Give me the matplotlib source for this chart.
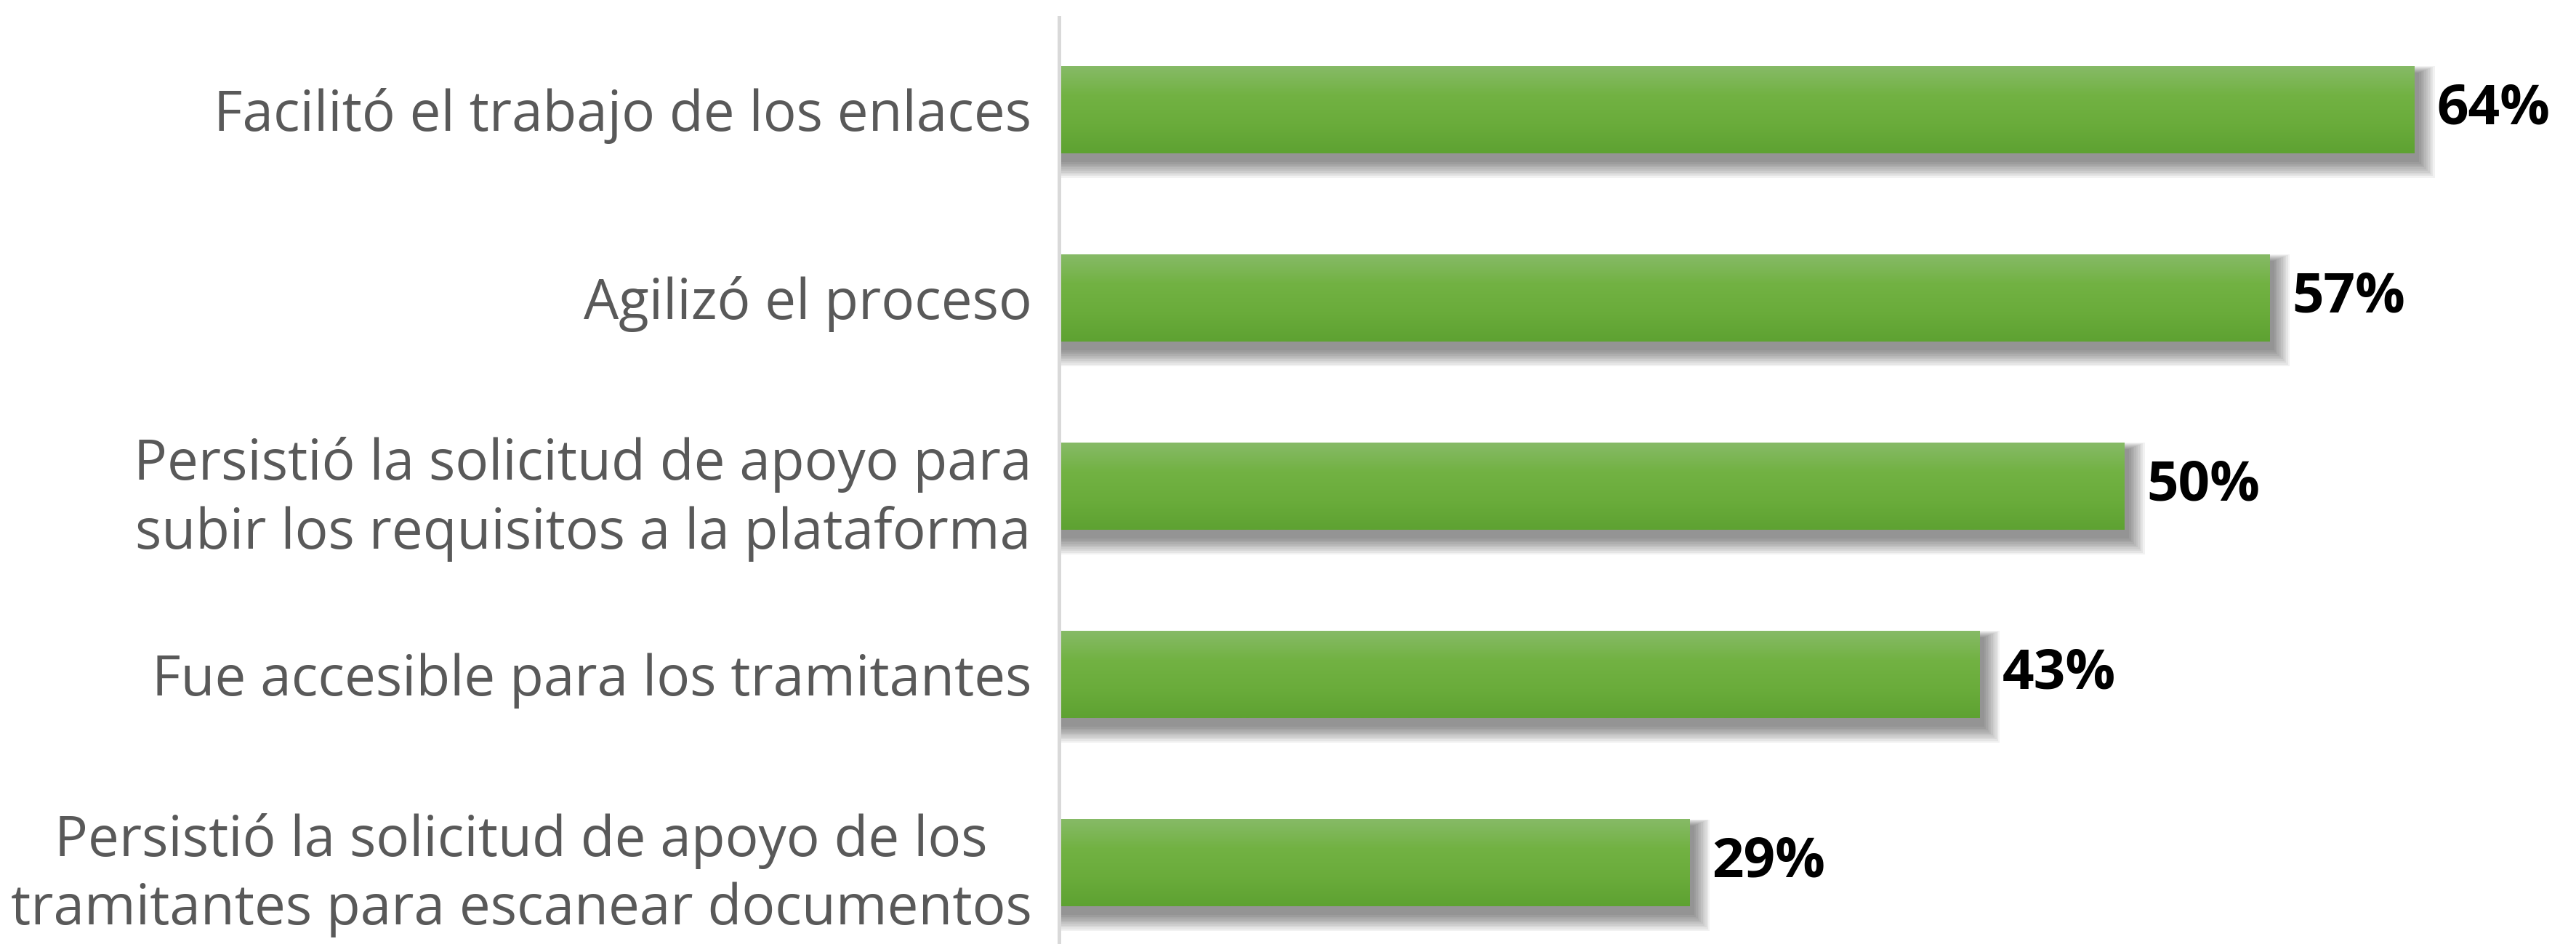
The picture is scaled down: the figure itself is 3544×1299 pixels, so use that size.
import numpy as np
import matplotlib
matplotlib.use("Agg")
import matplotlib.pyplot as plt
from matplotlib.colors import LinearSegmentedColormap
from matplotlib.patches import Rectangle

# region Data
categories = [
    "Facilitó el trabajo de los enlaces",
    "Agilizó el proceso",
    "Persistió la solicitud de apoyo para\nsubir los requisitos a la plataforma",
    "Fue accesible para los tramitantes",
    "Persistió la solicitud de apoyo de los\ntramitantes para escanear documentos",
]
values = [64, 57, 50, 43, 29]
value_labels = ["64%", "57%", "50%", "43%", "29%"]
# endregion

# region Figure setup
W, H, DPI = 3544, 1299, 100
fig = plt.figure(figsize=(W / DPI, H / DPI), dpi=DPI)
ax_left, ax_top = 1457, 24
ax = fig.add_axes([ax_left / W, 0, 1 - ax_left / W, 1 - ax_top / H])

x_min, x_max = -1.44, 71.8
y_top, y_bot = -0.49, 4.432
bar_h = 0.463
px_x = (W - ax_left) / (x_max - x_min)
px_y = (H - ax_top) / (y_bot - y_top)
ypos = np.arange(len(values))

green = LinearSegmentedColormap.from_list("g", ["#86ba66", "#72b243", "#6aac3b", "#5ea232"])
grad = np.linspace(0, 1, 64).reshape(-1, 1)
# endregion

# region Bars with shadow and gradient
for y, v, lab in zip(ypos, values, value_labels):
    # soft shadow, offset down
    for k in range(10):
        grow = (k + 1) * 2.4
        dx = grow / px_x
        dy = grow / px_y
        ax.add_patch(Rectangle((x_min, y - bar_h / 2 + 10 / px_y - dy * 0.4),
                               v - x_min + 4 / px_x + dx, bar_h + dy * 1.4,
                               facecolor="black", edgecolor="none", alpha=0.05, zorder=1))
    bars = ax.barh(y, v - x_min, left=x_min, height=bar_h, color="#70b040", zorder=2)
    img = ax.imshow(grad, cmap=green, aspect="auto", zorder=3,
                    extent=(x_min, v, y + bar_h / 2, y - bar_h / 2), origin="upper")
    img.set_clip_path(bars[0])
    ax.text(v + 31 / px_x, y, lab, va="center", ha="left",
            fontsize=55, fontweight="bold", color="black", family="Open Sans", zorder=4)
# endregion

# region Axes styling
ax.set_xlim(x_min, x_max)
ax.set_ylim(y_bot, y_top)
ax.set_yticks(ypos)
ax.set_yticklabels(categories, fontsize=55, color="#595959", family="Open Sans",
                   multialignment="center", linespacing=1.3)
ax.tick_params(axis="y", length=0, pad=27)
ax.set_xticks([])
for s in ["top", "right", "bottom"]:
    ax.spines[s].set_visible(False)
ax.spines["left"].set_color("#d9d9d9")
ax.spines["left"].set_linewidth(3.6)
ax.spines["left"].set_zorder(5)
# endregion

fig.savefig("out.png", dpi=DPI)
